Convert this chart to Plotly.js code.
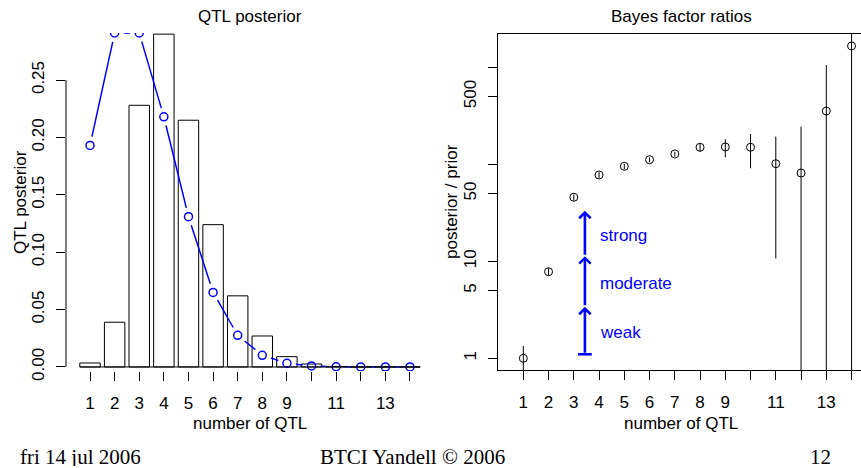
<!DOCTYPE html>
<html><head><meta charset="utf-8">
<script src="https://cdn.plot.ly/plotly-3.0.1.min.js"></script>
<style>html,body{margin:0;padding:0;background:#fff;overflow:hidden}#chart{width:861px;height:468px}</style>
</head><body><div id="chart"></div>
<script>
// ---- data ----
const nQTL = [1,2,3,4,5,6,7,8,9,10,11,12,13,14];
const posterior = [0.0035,0.039,0.228,0.290,0.215,0.124,0.062,0.027,0.009,0.0026,0.0004,0,0,0];
const prior = [0.193,0.291,0.291,0.218,0.131,0.065,0.0276,0.0102,0.0032,0.0009,0.0002,0,0,0];
const bfRatio = [1.0,7.81,45.7,77.6,95.3,111.5,127.7,149.7,150.8,149.7,101.4,81.3,354,1659];
const bfUpper = [1.34,8.5,49,83,101,118,135,164.6,181,205,192.6,244,1056,5000];
const bfLower = [0.5,7.2,42,72,89,105,120,134.9,118,91,10.7,0.5,0.5,0.5];
const xTickText = ['1','2','3','4','5','6','7','8','9','','11','','13',''];
const postTickVals = [0,0.05,0.10,0.15,0.20,0.25];
const bfTickVals = [1,5,10,50,100,500,1000];
const bfTickText = ['1','5','10','50','','500',''];
const evidenceCuts = [1.1,3.4,11.3,33.2];
const evidenceLabels = ['weak','moderate','strong'];

// ---- layout geometry ----
const W = 861, H = 468;
const SANS = 'Liberation Sans, Arial, Helvetica, sans-serif';
const SERIF = 'Liberation Serif, Times New Roman, serif';
const FS = 17;
const barWidth = 0.83;
const L = {x0:66, x1:434, y0:33, y1:371};     // left plot region (px)
const R = {x0:498, x1:861, y0:34, y1:370};    // right plot region (px)
const xRangeL = [0.024, 14.976];
const yRangeL = [-0.0035, 0.291];
const xRangeR = [-0.002, 14.374];
const yRangeR = [-0.1206, 3.343];

function gapped(xs, ys, sx, sy, g) {
  const ox = [], oy = [];
  for (let i = 0; i < xs.length - 1; i++) {
    const dx = (xs[i+1]-xs[i])*sx, dy = (ys[i+1]-ys[i])*sy;
    const len = Math.hypot(dx, dy);
    if (len <= 2*g) continue;
    const f = g/len;
    ox.push(xs[i] + f*(xs[i+1]-xs[i]), xs[i+1] - f*(xs[i+1]-xs[i]), null);
    oy.push(ys[i] + f*(ys[i+1]-ys[i]), ys[i+1] - f*(ys[i+1]-ys[i]), null);
  }
  return {x: ox, y: oy};
}
const sxL = (L.x1-L.x0)/(xRangeL[1]-xRangeL[0]);
const syL = (L.y1-L.y0)/(yRangeL[1]-yRangeL[0]);
const priorLine = gapped(nQTL, prior, sxL, syL, 9);

const traces = [
  {type:'bar', x:nQTL, y:posterior, width:barWidth, xaxis:'x', yaxis:'y',
   marker:{color:'#ffffff', line:{color:'#000000', width:1}}, hoverinfo:'skip'},
  {type:'scatter', mode:'lines', x:priorLine.x, y:priorLine.y, xaxis:'x', yaxis:'y',
   line:{color:'#0000ff', width:1.5}, connectgaps:false, hoverinfo:'skip'},
  {type:'scatter', mode:'markers', x:nQTL, y:prior, xaxis:'x', yaxis:'y',
   marker:{symbol:'circle-open', size:8, color:'#0000ff', line:{width:1.5, color:'#0000ff'}}, hoverinfo:'skip'},
  {type:'scatter', mode:'markers', x:nQTL, y:bfRatio, xaxis:'x2', yaxis:'y2',
   marker:{symbol:'circle-open', size:8, color:'#000000', line:{width:1, color:'#000000'}},
   error_y:{type:'data', symmetric:false,
            array: bfUpper.map((u,i)=>u-bfRatio[i]),
            arrayminus: bfLower.map((l,i)=>bfRatio[i]-l),
            width:0, thickness:1, color:'#000000'},
   hoverinfo:'skip'}
];

const axBase = {showgrid:false, zeroline:false, ticks:'outside', ticklen:9, tickwidth:1,
  tickcolor:'#000', tickfont:{family:SANS, size:FS, color:'#000'}, fixedrange:true};

const arrowX = 3.44;
const annotations = [];
// evidence arrows
for (let i = 0; i < evidenceCuts.length-1; i++) {
  annotations.push({xref:'x2', yref:'y2', axref:'x2', ayref:'y2',
    x:arrowX, y:Math.log10(evidenceCuts[i+1]), ax:arrowX, ay:Math.log10(evidenceCuts[i]),
    showarrow:true, arrowhead:4, arrowsize:0.85, arrowwidth:2.6, arrowcolor:'#0000ff',
    standoff:0, startstandoff:0, text:''});
  annotations.push({xref:'x2', yref:'y2', x:arrowX+0.5,
    y:(Math.log10(evidenceCuts[i])+Math.log10(evidenceCuts[i+1]))/2 - 0.02,
    text:evidenceLabels[i], showarrow:false, xanchor:'left', yanchor:'middle',
    font:{family:SANS, size:FS, color:'#0000ff'}});
}
// titles
const txt = (t, x, y, opts) => Object.assign({xref:'paper', yref:'paper', x:x/W, y:1-y/H,
  text:t, showarrow:false, xanchor:'center', yanchor:'middle',
  font:{family:SANS, size:FS, color:'#000'}}, opts||{});
annotations.push(txt('QTL posterior', 250, 17));
annotations.push(txt('Bayes factor ratios', 681, 17));
annotations.push(txt('number of QTL', 250, 423));
annotations.push(txt('number of QTL', 681, 423));
annotations.push(txt('QTL posterior', 20, 202, {textangle:-90}));
annotations.push(txt('posterior / prior', 451, 202, {textangle:-90}));
const footFont = {family:SERIF, size:21, color:'#000'};
const foot = {yanchor:'bottom', height:18, valign:'middle', font:footFont};
annotations.push(txt('fri 14 jul 2006', 18, 468, Object.assign({xanchor:'left'}, foot)));
annotations.push(txt('BTCI Yandell © 2006', 412, 468, foot));
annotations.push(txt('12', 820, 468, foot));

const shapes = [
  // left y axis line spanning tick range
  {type:'line', xref:'paper', yref:'y', x0:L.x0/W, x1:L.x0/W, y0:0, y1:0.25, line:{color:'#000', width:1}},
  // bar baseline
  {type:'line', xref:'x', yref:'y', x0:nQTL[0]-barWidth/2, x1:nQTL[nQTL.length-1]+barWidth/2, y0:0, y1:0,
   line:{color:'#000', width:1}},
  // bottom cap of evidence arrow (shape positions on log axes are data values)
  {type:'line', xref:'x2', yref:'y2', x0:arrowX-0.27, x1:arrowX+0.27,
   y0:evidenceCuts[0], y1:evidenceCuts[0], line:{color:'#0000ff', width:2.6}}
];

const layout = {
  width:W, height:H, margin:{l:0, r:0, t:0, b:0},
  paper_bgcolor:'#fff', plot_bgcolor:'rgba(0,0,0,0)', showlegend:false,
  font:{family:SANS, size:FS, color:'#000'},
  xaxis: Object.assign({}, axBase, {domain:[L.x0/W, L.x1/W], range:xRangeL, anchor:'y',
    tickmode:'array', tickvals:nQTL, ticktext:xTickText, showline:false, ticklabelstandoff:8}),
  yaxis: Object.assign({}, axBase, {domain:[1-L.y1/H, 1-L.y0/H], range:yRangeL, anchor:'x',
    tickmode:'array', tickvals:postTickVals, tickformat:'.2f', tickangle:-90, showline:false,
    ticklabelstandoff:5}),
  xaxis2: Object.assign({}, axBase, {domain:[R.x0/W, R.x1/W], range:xRangeR, anchor:'y2',
    tickmode:'array', tickvals:nQTL, ticktext:xTickText, showline:true, mirror:true,
    linecolor:'#000', linewidth:1, ticklabelstandoff:8}),
  yaxis2: Object.assign({}, axBase, {type:'log', domain:[1-R.y1/H, 1-R.y0/H], range:yRangeR, anchor:'x2',
    tickmode:'array', tickvals:bfTickVals, ticktext:bfTickText, tickangle:-90, showline:true,
    linecolor:'#000', linewidth:1, ticklabelstandoff:5}),
  annotations: annotations,
  shapes: shapes,
  bargap:0
};

Plotly.newPlot('chart', traces, layout, {staticPlot:true, displayModeBar:false});
</script>
</body></html>
